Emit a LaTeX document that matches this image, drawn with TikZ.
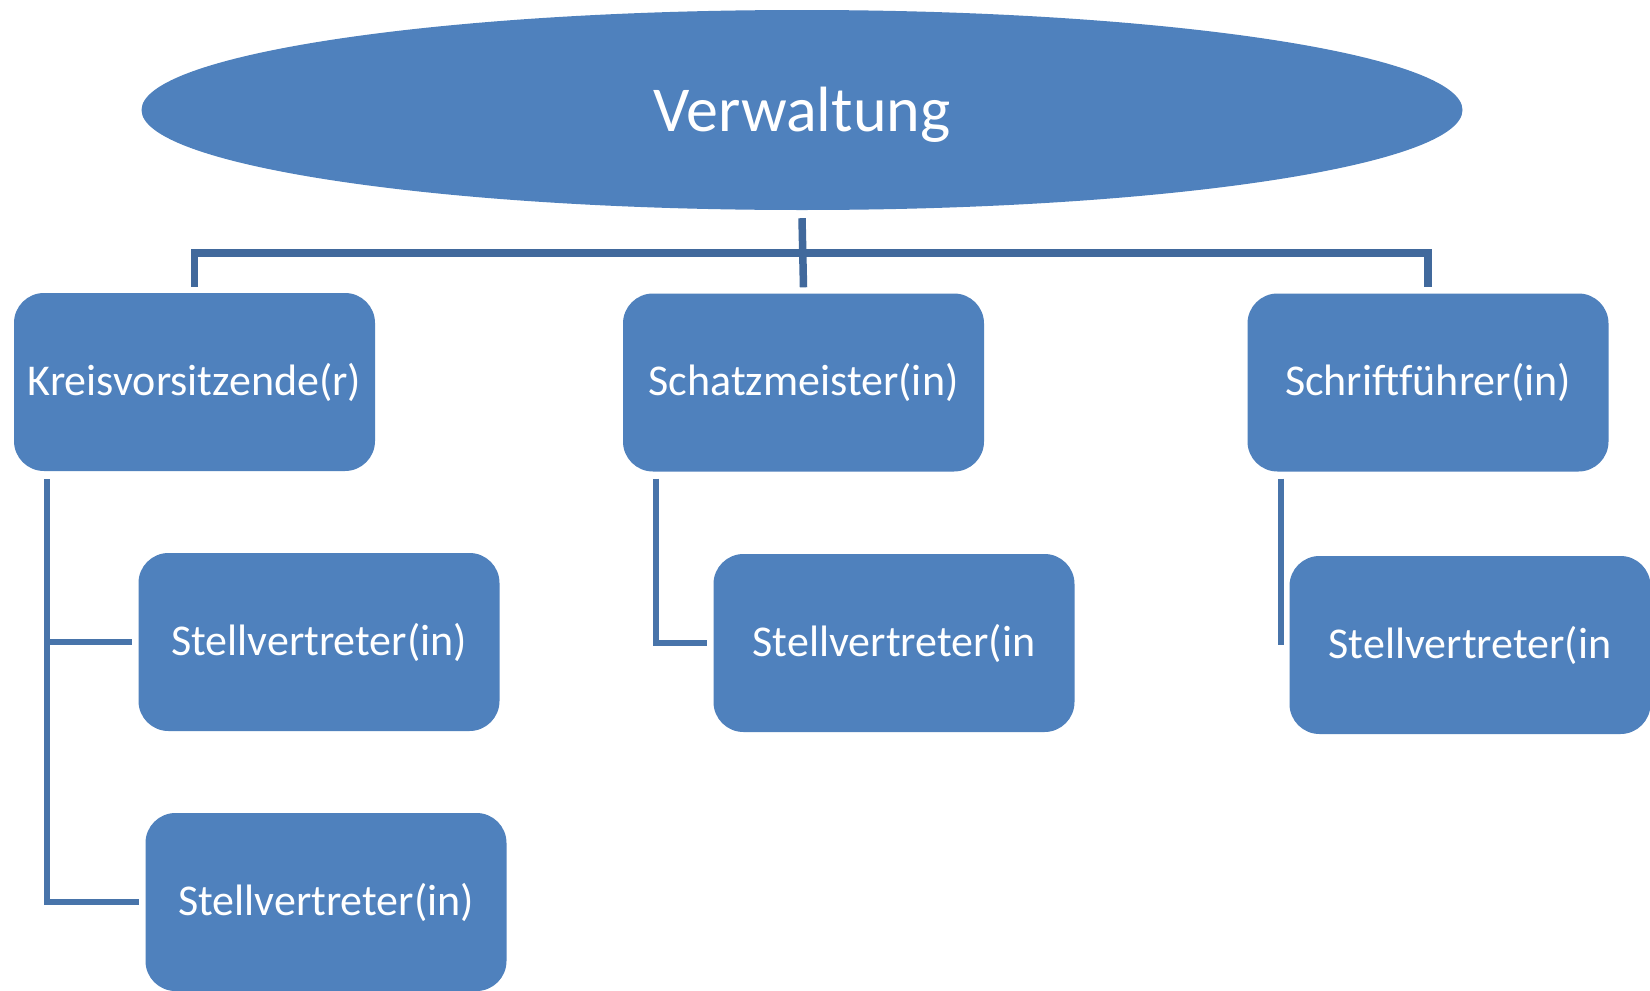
\documentclass[tikz,border=0pt]{standalone}
\usepackage{fontspec}
\setmainfont{Carlito}
\usetikzlibrary{shapes.geometric,calc}
\definecolor{boxblue}{HTML}{4F81BD}
\definecolor{toplinec}{HTML}{41699C}
\definecolor{sublinec}{HTML}{4874AA}
\tikzset{
  orgbox/.style={draw=none, fill=boxblue, rounded corners=30pt, minimum width=361pt, minimum height=178pt, inner sep=0pt, text=white, font=\fontsize{44}{52}\selectfont},
  rootell/.style={ellipse, draw=none, fill=boxblue, minimum width=1321pt, minimum height=200pt, inner sep=0pt, text=white, font=\fontsize{64}{76}\selectfont, text height=56pt, text depth=13pt},
  topline/.style={draw=toplinec, line width=7.5pt},
  subline/.style={draw=sublinec, line width=6pt}
}
\begin{document}
\begin{tikzpicture}[x=1pt,y=-1pt]
\useasboundingbox (0,0) rectangle (1650,991);
\clip (0,0) rectangle (1650,991);
\fill[white] (0,0) rectangle (1650,991);
\node[rootell] (root) at (802,110) {Verwaltung};
\node[orgbox] (kv) at (194.5,382) {Kreisvorsitzende(r)};
\node[orgbox] (sm) at (803.5,382.5) {Schatzmeister(in)};
\node[orgbox] (sf) at (1428,382.5) {Schriftführer(in)};
\node[orgbox] (sv1) at (319,642) {Stellvertreter(in)};
\node[orgbox] (sv2) at (326,902) {Stellvertreter(in)};
\node[orgbox] (svm) at (894,643) {Stellvertreter(in};
\node[orgbox] (svr) at (1470,645) {Stellvertreter(in};
\coordinate (bar) at (802,253);
% top connectors
\draw[topline] ([yshift=-8pt]root.south) -- ([yshift=6pt]sm.north);
\draw[topline] ([yshift=6pt]kv.north) |- (bar) -| ([yshift=6pt]sf.north);
% lower connectors
\coordinate (la) at ([xshift=33pt,yshift=-8pt]kv.south west);
\draw[subline] (la) |- ([xshift=-6pt]sv1.west);
\draw[subline] (la) |- ([xshift=-6pt]sv2.west);
\coordinate (ma) at ([xshift=33pt,yshift=-7pt]sm.south west);
\draw[subline] (ma) |- ([xshift=-6pt]svm.west);
\coordinate (ra) at ([xshift=34pt,yshift=-7pt]sf.south west);
\draw[subline] (ra) -- (ra |- svr.west);
\end{tikzpicture}
\end{document}
